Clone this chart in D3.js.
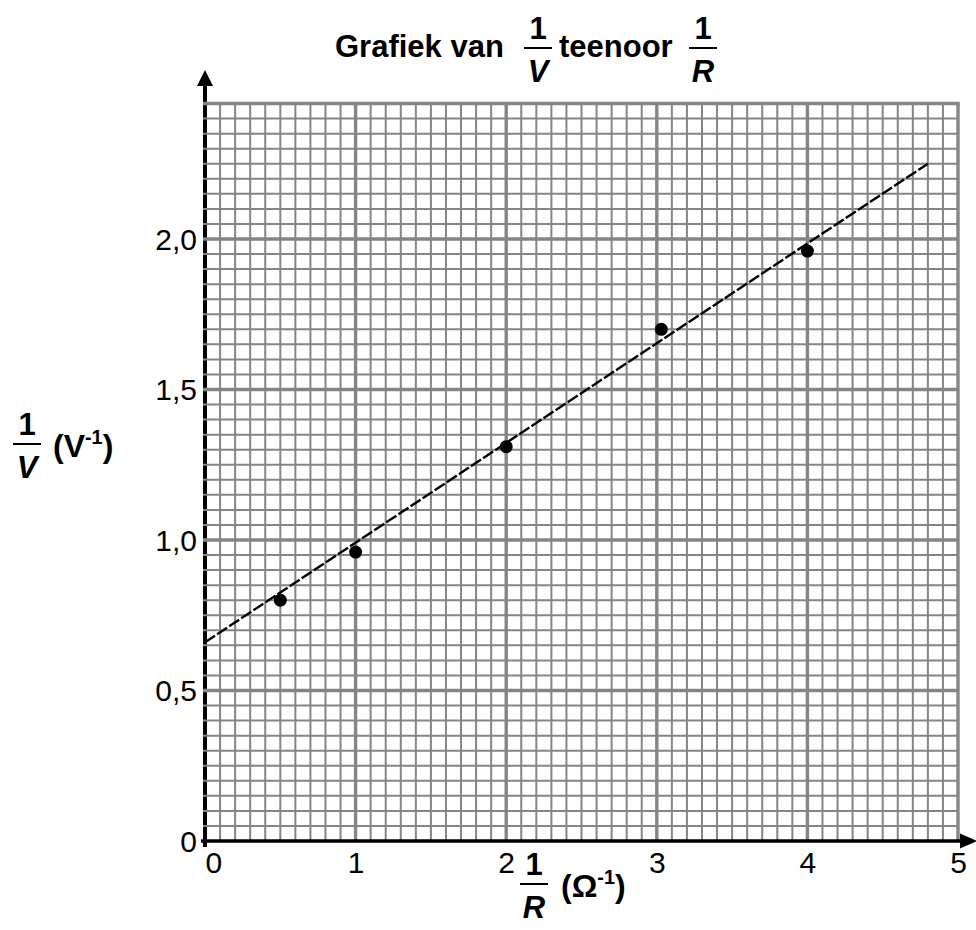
<!DOCTYPE html>
<html>
<head>
<meta charset="utf-8">
<script src="https://cdn.jsdelivr.net/npm/d3@7"></script>
<style>
  body { margin: 0; background: #fff; }
  svg text { font-family: "Liberation Sans", Arial, sans-serif; fill: #000; }
</style>
</head>
<body>
<div id="chart"></div>
<script>
// measured points (1/R, 1/V)
const invR = [0.5, 1.0, 2.0, 3.03, 4.0]
const invV = [0.80, 0.96, 1.31, 1.70, 1.96]

// dashed best fit line end points
const fitX = [0, 4.8]
const fitY = [0.66, 2.25]

const xTicks = [0, 1, 2, 3, 4, 5]
const xTickLabels = ['0', '1', '2', '3', '4', '5']
const yTicks = [0, 0.5, 1.0, 1.5, 2.0]
const yTickLabels = ['0', '0,5', '1,0', '1,5', '2,0']

const xDomain = [0, 5]
const yDomain = [0, 2.45]

const dims = { width: 976, height: 930 }
const origin = { x: 205, y: 841 }
const pxPerX = 150.6
const pxPerY = 301

const gridColor = '#858585'

const x = d3.scaleLinear()
  .domain(xDomain)
  .range([origin.x, origin.x + xDomain[1] * pxPerX])

const y = d3.scaleLinear()
  .domain(yDomain)
  .range([origin.y, origin.y - yDomain[1] * pxPerY])

const svg = d3.select('#chart')
  .append('svg')
  .attr('width', dims.width)
  .attr('height', dims.height)

// grid: minor every 0.1 on x, every 0.05 on y, major every 1 and 0.5
const vLines = d3.range(1, 51).map(i => i / 10)
const hLines = d3.range(1, 50).map(i => i * 0.05)

svg.append('g')
  .classed('v-grid', true)
  .selectAll('line')
  .data(vLines)
  .enter()
  .append('line')
  .attr('x1', d => x(d))
  .attr('x2', d => x(d))
  .attr('y1', y(yDomain[1]))
  .attr('y2', y(0))
  .attr('stroke', gridColor)
  .attr('stroke-width', (d, i) => (i + 1) % 10 === 0 ? 3.4 : 2)

// x axis line + arrow
svg.append('line')
  .attr('x1', origin.x - 4)
  .attr('x2', 962)
  .attr('y1', y(0))
  .attr('y2', y(0))
  .attr('stroke', '#000')
  .attr('stroke-width', 3.5)

svg.append('path')
  .attr('d', `M960,${y(0) - 7.5} L977,${y(0)} L960,${y(0) + 7.5} Z`)
  .attr('fill', '#000')

// y axis line + arrow
svg.append('line')
  .attr('x1', origin.x)
  .attr('x2', origin.x)
  .attr('y1', y(0) + 6)
  .attr('y2', 84)
  .attr('stroke', '#000')
  .attr('stroke-width', 4)

svg.append('path')
  .attr('d', `M${origin.x - 8},86 L${origin.x},70 L${origin.x + 8},86 Z`)
  .attr('fill', '#000')

svg.append('g')
  .classed('h-grid', true)
  .selectAll('line')
  .data(hLines)
  .enter()
  .append('line')
  .attr('x1', origin.x - 2)
  .attr('x2', x(xDomain[1]))
  .attr('y1', d => y(d))
  .attr('y2', d => y(d))
  .attr('stroke', gridColor)
  .attr('stroke-width', (d, i) => (i + 1) % 10 === 0 ? 3.4 : 2)

// top border a bit heavier
svg.append('line')
  .attr('x1', origin.x - 2)
  .attr('x2', x(xDomain[1]) + 1.7)
  .attr('y1', y(yDomain[1]))
  .attr('y2', y(yDomain[1]))
  .attr('stroke', gridColor)
  .attr('stroke-width', 3.4)

// tick labels through d3 axes
const xAxis = svg.append('g')
  .classed('x-axis', true)
  .attr('transform', `translate(0, ${y(0)})`)
  .call(d3.axisBottom(x)
    .tickValues(xTicks)
    .tickFormat((d, i) => xTickLabels[i])
    .tickSize(0)
    .tickPadding(11))

xAxis.select('.domain').remove()
xAxis.selectAll('text')
  .attr('font-size', 30)
  .attr('font-family', '"Liberation Sans", Arial, sans-serif')
  .attr('fill', '#000')
  .filter(d => d === 0)
  .attr('text-anchor', 'start')

const yAxis = svg.append('g')
  .classed('y-axis', true)
  .attr('transform', `translate(${origin.x}, 0)`)
  .call(d3.axisLeft(y)
    .tickValues(yTicks)
    .tickFormat((d, i) => yTickLabels[i])
    .tickSize(0)
    .tickPadding(8))

yAxis.select('.domain').remove()
yAxis.selectAll('text')
  .attr('font-size', 30)
  .attr('font-family', '"Liberation Sans", Arial, sans-serif')
  .attr('fill', '#000')
  .attr('dy', '0.34em')

// best fit line
svg.append('path')
  .datum(fitX.map((d, i) => [d, fitY[i]]))
  .attr('d', d3.line().x(d => x(d[0])).y(d => y(d[1])))
  .attr('fill', 'none')
  .attr('stroke', '#000')
  .attr('stroke-width', 2.4)
  .attr('stroke-dasharray', '12,2.5')

// points
svg.append('g')
  .classed('points', true)
  .selectAll('circle')
  .data(invR.map((d, i) => [d, invV[i]]))
  .enter()
  .append('circle')
  .attr('cx', d => x(d[0]))
  .attr('cy', d => y(d[1]))
  .attr('r', 6.5)
  .attr('fill', '#000')

// fraction helper: 1 over letter
function fraction (g, cx, lineY, letter, size) {
  g.append('text')
    .attr('x', cx)
    .attr('y', lineY - 9)
    .attr('text-anchor', 'middle')
    .attr('font-size', size)
    .attr('font-weight', 'bold')
    .text('1')
  g.append('line')
    .attr('x1', cx - 14)
    .attr('x2', cx + 14)
    .attr('y1', lineY)
    .attr('y2', lineY)
    .attr('stroke', '#000')
    .attr('stroke-width', 2)
  g.append('text')
    .attr('x', cx)
    .attr('y', lineY + 34)
    .attr('text-anchor', 'middle')
    .attr('font-size', size)
    .attr('font-weight', 'bold')
    .attr('font-style', 'italic')
    .text(letter)
}

function unitText (g, x0, baseline, unit, size) {
  const t = g.append('text')
    .attr('x', x0)
    .attr('y', baseline)
    .attr('font-size', size)
    .attr('font-weight', 'bold')
  t.append('tspan').text('(' + unit)
  t.append('tspan').attr('font-size', size * 0.62).attr('dy', -13).text('-1')
  t.append('tspan').attr('dy', 13).text(')')
}

// title
const title = svg.append('g').classed('title', true)
title.append('text')
  .attr('x', 335)
  .attr('y', 57)
  .attr('font-size', 31)
  .attr('font-weight', 'bold')
  .text('Grafiek van')
fraction(title, 538, 48, 'V', 31)
title.append('text')
  .attr('x', 559)
  .attr('y', 57)
  .attr('font-size', 31)
  .attr('font-weight', 'bold')
  .text('teenoor')
fraction(title, 703, 48, 'R', 31)

// y label
const yLabel = svg.append('g').classed('y-label', true)
fraction(yLabel, 27, 444, 'V', 31)
unitText(yLabel, 53, 457, 'V', 32)

// x label
const xLabel = svg.append('g').classed('x-label', true)
fraction(xLabel, 534, 884, 'R', 31)
unitText(xLabel, 561, 897, 'Ω', 32)
</script>
</body>
</html>
